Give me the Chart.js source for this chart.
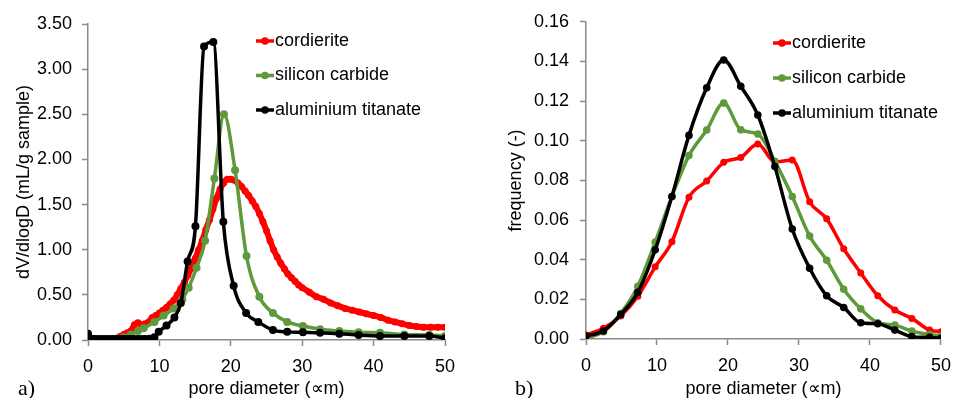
<!DOCTYPE html>
<html>
<head>
<meta charset="utf-8">
<script src="https://cdn.jsdelivr.net/npm/chart.js@4.4.1/dist/chart.umd.min.js"></script>
<style>
body { margin: 0; background: #fff; }
#wrap { position: relative; width: 961px; height: 398px; }
#wrap canvas { position: absolute; top: 0; }
.tag { position: absolute; font-family: "Liberation Serif", serif; font-size: 22px; line-height: 22px; color: #000; }
</style>
</head>
<body>
<div id="wrap">
  <canvas id="grafikA" width="480" height="398" style="left:0"></canvas>
  <canvas id="grafikB" width="481" height="398" style="left:480px"></canvas>
  <div class="tag" style="left:18px;top:377px">a)</div>
  <div class="tag" style="left:515px;top:377px">b)</div>
</div>
<script>
// panel a) - dV/dlogD
const namaSeri = ['cordierite', 'silicon carbide', 'aluminium titanate'];
const warnaSeri = ['#ff0000', '#5e9a3c', '#000000'];

const xCordA = [0, 1, 2, 3, 4, 4.5, 5, 5.5, 6, 6.5, 7, 7.5, 8, 8.5, 9, 9.5, 10, 10.5, 11, 11.5, 12, 12.5, 13, 13.5, 14, 14.5, 15, 15.5, 16, 16.5, 17, 17.5, 18, 18.5, 19, 19.5, 20, 20.5, 21, 21.5, 22, 22.5, 23, 23.5, 24, 24.5, 25, 25.5, 26, 26.5, 27, 27.5, 28, 28.5, 29, 29.5, 30, 31, 32, 33, 34, 35, 36, 37, 38, 39, 40, 41, 42, 43, 44, 45, 46, 47, 48, 49, 50];
const yCordA = [0.01, 0.01, 0.01, 0.01, 0.02, 0.04, 0.06, 0.08, 0.10, 0.17, 0.19, 0.17, 0.18, 0.20, 0.25, 0.27, 0.30, 0.33, 0.36, 0.40, 0.44, 0.50, 0.57, 0.64, 0.72, 0.80, 0.90, 1.00, 1.10, 1.22, 1.33, 1.45, 1.57, 1.67, 1.74, 1.78, 1.78, 1.77, 1.74, 1.70, 1.65, 1.60, 1.54, 1.48, 1.40, 1.31, 1.21, 1.10, 1.00, 0.92, 0.85, 0.79, 0.73, 0.69, 0.65, 0.61, 0.58, 0.53, 0.48, 0.45, 0.41, 0.38, 0.35, 0.33, 0.31, 0.29, 0.27, 0.25, 0.22, 0.20, 0.18, 0.16, 0.15, 0.14, 0.14, 0.14, 0.14];

const xSicA = [0, 1, 2, 3, 4, 5, 6, 7, 7.8, 9.3, 10.6, 12.0, 13.2, 14.1, 15.2, 16.4, 17.7, 19.05, 20.6, 22.2, 24.0, 25.9, 27.9, 30.1, 32.5, 35.2, 37.9, 40.9, 44.3, 47.8, 50];
const ySicA = [0, 0, 0, 0, 0.01, 0.03, 0.06, 0.10, 0.13, 0.20, 0.27, 0.35, 0.45, 0.58, 0.80, 1.10, 1.79, 2.50, 1.88, 0.93, 0.48, 0.30, 0.20, 0.155, 0.12, 0.10, 0.085, 0.08, 0.06, 0.055, 0.045];

const xAtA = [0, 0.3, 0.6, 1, 1.5, 2, 2.5, 3, 3.5, 4, 4.5, 5, 5.5, 6, 6.5, 7, 7.5, 8, 8.6, 9.3, 9.9, 11.0, 12.1, 13.0, 13.95, 15.05, 16.25, 17.55, 18.95, 20.4, 22.15, 23.85, 25.9, 27.9, 30.1, 32.5, 35.2, 37.9, 40.9, 44.3, 47.8, 50];
const yAtA = [0.07, 0.02, 0.01, 0.01, 0.01, 0.01, 0.01, 0.01, 0.01, 0.01, 0.01, 0.01, 0.01, 0.01, 0.01, 0.01, 0.01, 0.01, 0.015, 0.03, 0.09, 0.16, 0.25, 0.41, 0.87, 1.26, 3.25, 3.30, 1.31, 0.60, 0.30, 0.20, 0.11, 0.09, 0.085, 0.08, 0.07, 0.055, 0.045, 0.045, 0.045, 0.02];

// panel b) - frequency
const xFreqB = [0, 2.45, 4.9, 7.3, 9.75, 12.1, 14.5, 17.0, 19.4, 21.8, 24.2, 26.6, 29.05, 31.5, 33.9, 36.3, 38.7, 41.1, 43.5, 45.9, 48.4, 50];
const yCordB = [0.002, 0.0054, 0.0116, 0.0216, 0.0364, 0.0491, 0.0715, 0.0797, 0.0891, 0.0916, 0.0983, 0.0893, 0.0903, 0.0692, 0.0606, 0.0455, 0.0333, 0.0218, 0.0146, 0.0104, 0.0045, 0.0037];
const ySicB = [0.0003, 0.0037, 0.0129, 0.0266, 0.0489, 0.0719, 0.0925, 0.1054, 0.119, 0.1055, 0.1034, 0.0896, 0.0719, 0.0519, 0.0397, 0.0251, 0.0152, 0.0082, 0.007, 0.004, 0.0023, 0.0015];
const yAtB = [0.0015, 0.004, 0.0124, 0.0235, 0.045, 0.0719, 0.1027, 0.1267, 0.1407, 0.1275, 0.113, 0.087, 0.0555, 0.0357, 0.0218, 0.0159, 0.0082, 0.0077, 0.0045, 0.0012, 0.0008, 0.0003];

const judulX = 'pore diameter (∝m)';
const judulYA = 'dV/dlogD (mL/g sample)';
const judulYB = 'frequency (-)';

const huruf = '"Liberation Sans", Arial, sans-serif';
const abu = '#8a8a8a';

function pasangan(xs, ys) {
    return xs.map((x, i) => ({ x: x, y: ys[i] }));
}

// legend: short line with a dot, then the label
const legendaGaris = {
    id: 'legendaGaris',
    afterDatasetsDraw(chart, args, opts) {
        const ctx = chart.ctx;
        ctx.save();
        chart.data.datasets.forEach((ds, i) => {
            const y = opts.y + i * opts.gap;
            ctx.strokeStyle = ds.borderColor;
            ctx.lineWidth = 3.5;
            ctx.beginPath();
            ctx.moveTo(opts.x, y);
            ctx.lineTo(opts.x + 18, y);
            ctx.stroke();
            ctx.fillStyle = ds.borderColor;
            ctx.beginPath();
            ctx.arc(opts.x + 9, y, 3.8, 0, Math.PI * 2);
            ctx.fill();
            ctx.fillStyle = '#000';
            ctx.font = '18px ' + huruf;
            ctx.textBaseline = 'middle';
            ctx.fillText(ds.label, opts.x + 19, y);
        });
        ctx.restore();
    }
};

function buatGrafik(id, seri, cfg) {
    const ctx = document.getElementById(id).getContext('2d');
    return new Chart(ctx, {
        type: 'line',
        data: {
            datasets: seri.map((s, i) => ({
                label: namaSeri[i],
                data: s.data,
                borderColor: warnaSeri[i],
                backgroundColor: warnaSeri[i],
                borderWidth: s.lebar,
                pointRadius: s.titik,
                pointBorderWidth: 0,
                pointBackgroundColor: warnaSeri[i],
                cubicInterpolationMode: 'monotone',
                fill: false,
                order: 3 - i
            }))
        },
        plugins: [legendaGaris],
        options: {
            responsive: false,
            animation: false,
            layout: { padding: cfg.padding },
            plugins: {
                legend: { display: false },
                tooltip: { enabled: false },
                legendaGaris: cfg.legenda
            },
            scales: {
                x: {
                    type: 'linear',
                    min: 0, max: 50,
                    border: { color: abu, width: 1.5 },
                    grid: { drawOnChartArea: false, color: abu, tickLength: 6, tickWidth: 1.5 },
                    ticks: { stepSize: 10, color: '#000', padding: 10, font: { family: huruf, size: 18 } },
                    title: { display: true, text: judulX, color: '#000', padding: { top: 0, bottom: 0 }, font: { family: huruf, size: 18, lineHeight: 1.0 } },
                    afterFit(scale) { scale.height = cfg.tinggiX; }
                },
                y: {
                    min: 0, max: cfg.maxY,
                    border: { color: abu, width: 1.5 },
                    grid: { drawOnChartArea: false, color: abu, tickLength: 6, tickWidth: 1.5 },
                    ticks: {
                        stepSize: cfg.langkahY, color: '#000', padding: cfg.padTickY,
                        font: { family: huruf, size: 18 },
                        callback: v => v.toFixed(2)
                    },
                    title: { display: true, text: cfg.judulY, color: '#000', padding: { top: cfg.padJudulY, bottom: 0 }, font: { family: huruf, size: 18 } },
                    afterFit(scale) { scale.width = cfg.lebarY; }
                }
            }
        }
    });
}

buatGrafik('grafikA', [
    { data: pasangan(xCordA, yCordA), lebar: 6, titik: 3.5 },
    { data: pasangan(xSicA, ySicA), lebar: 3.5, titik: 4 },
    { data: pasangan(xAtA, yAtA), lebar: 3.5, titik: 4 }
], {
    padding: { top: 24, right: 35, left: 0, bottom: 0 },
    tinggiX: 58, lebarY: 88, maxY: 3.5, langkahY: 0.5,
    padTickY: 10, padJudulY: 13, judulY: judulYA,
    legenda: { x: 256, y: 41, gap: 34.5 }
});

buatGrafik('grafikB', [
    { data: pasangan(xFreqB, yCordB), lebar: 3.5, titik: 3.5 },
    { data: pasangan(xFreqB, ySicB), lebar: 3.5, titik: 3.8 },
    { data: pasangan(xFreqB, yAtB), lebar: 3.5, titik: 3.8 }
], {
    padding: { top: 21, right: 13, left: 0, bottom: 0 },
    tinggiX: 59, lebarY: 106, maxY: 0.16, langkahY: 0.02,
    padTickY: 11, padJudulY: 25, judulY: judulYB,
    legenda: { x: 293, y: 43, gap: 35 }
});
</script>
</body>
</html>
